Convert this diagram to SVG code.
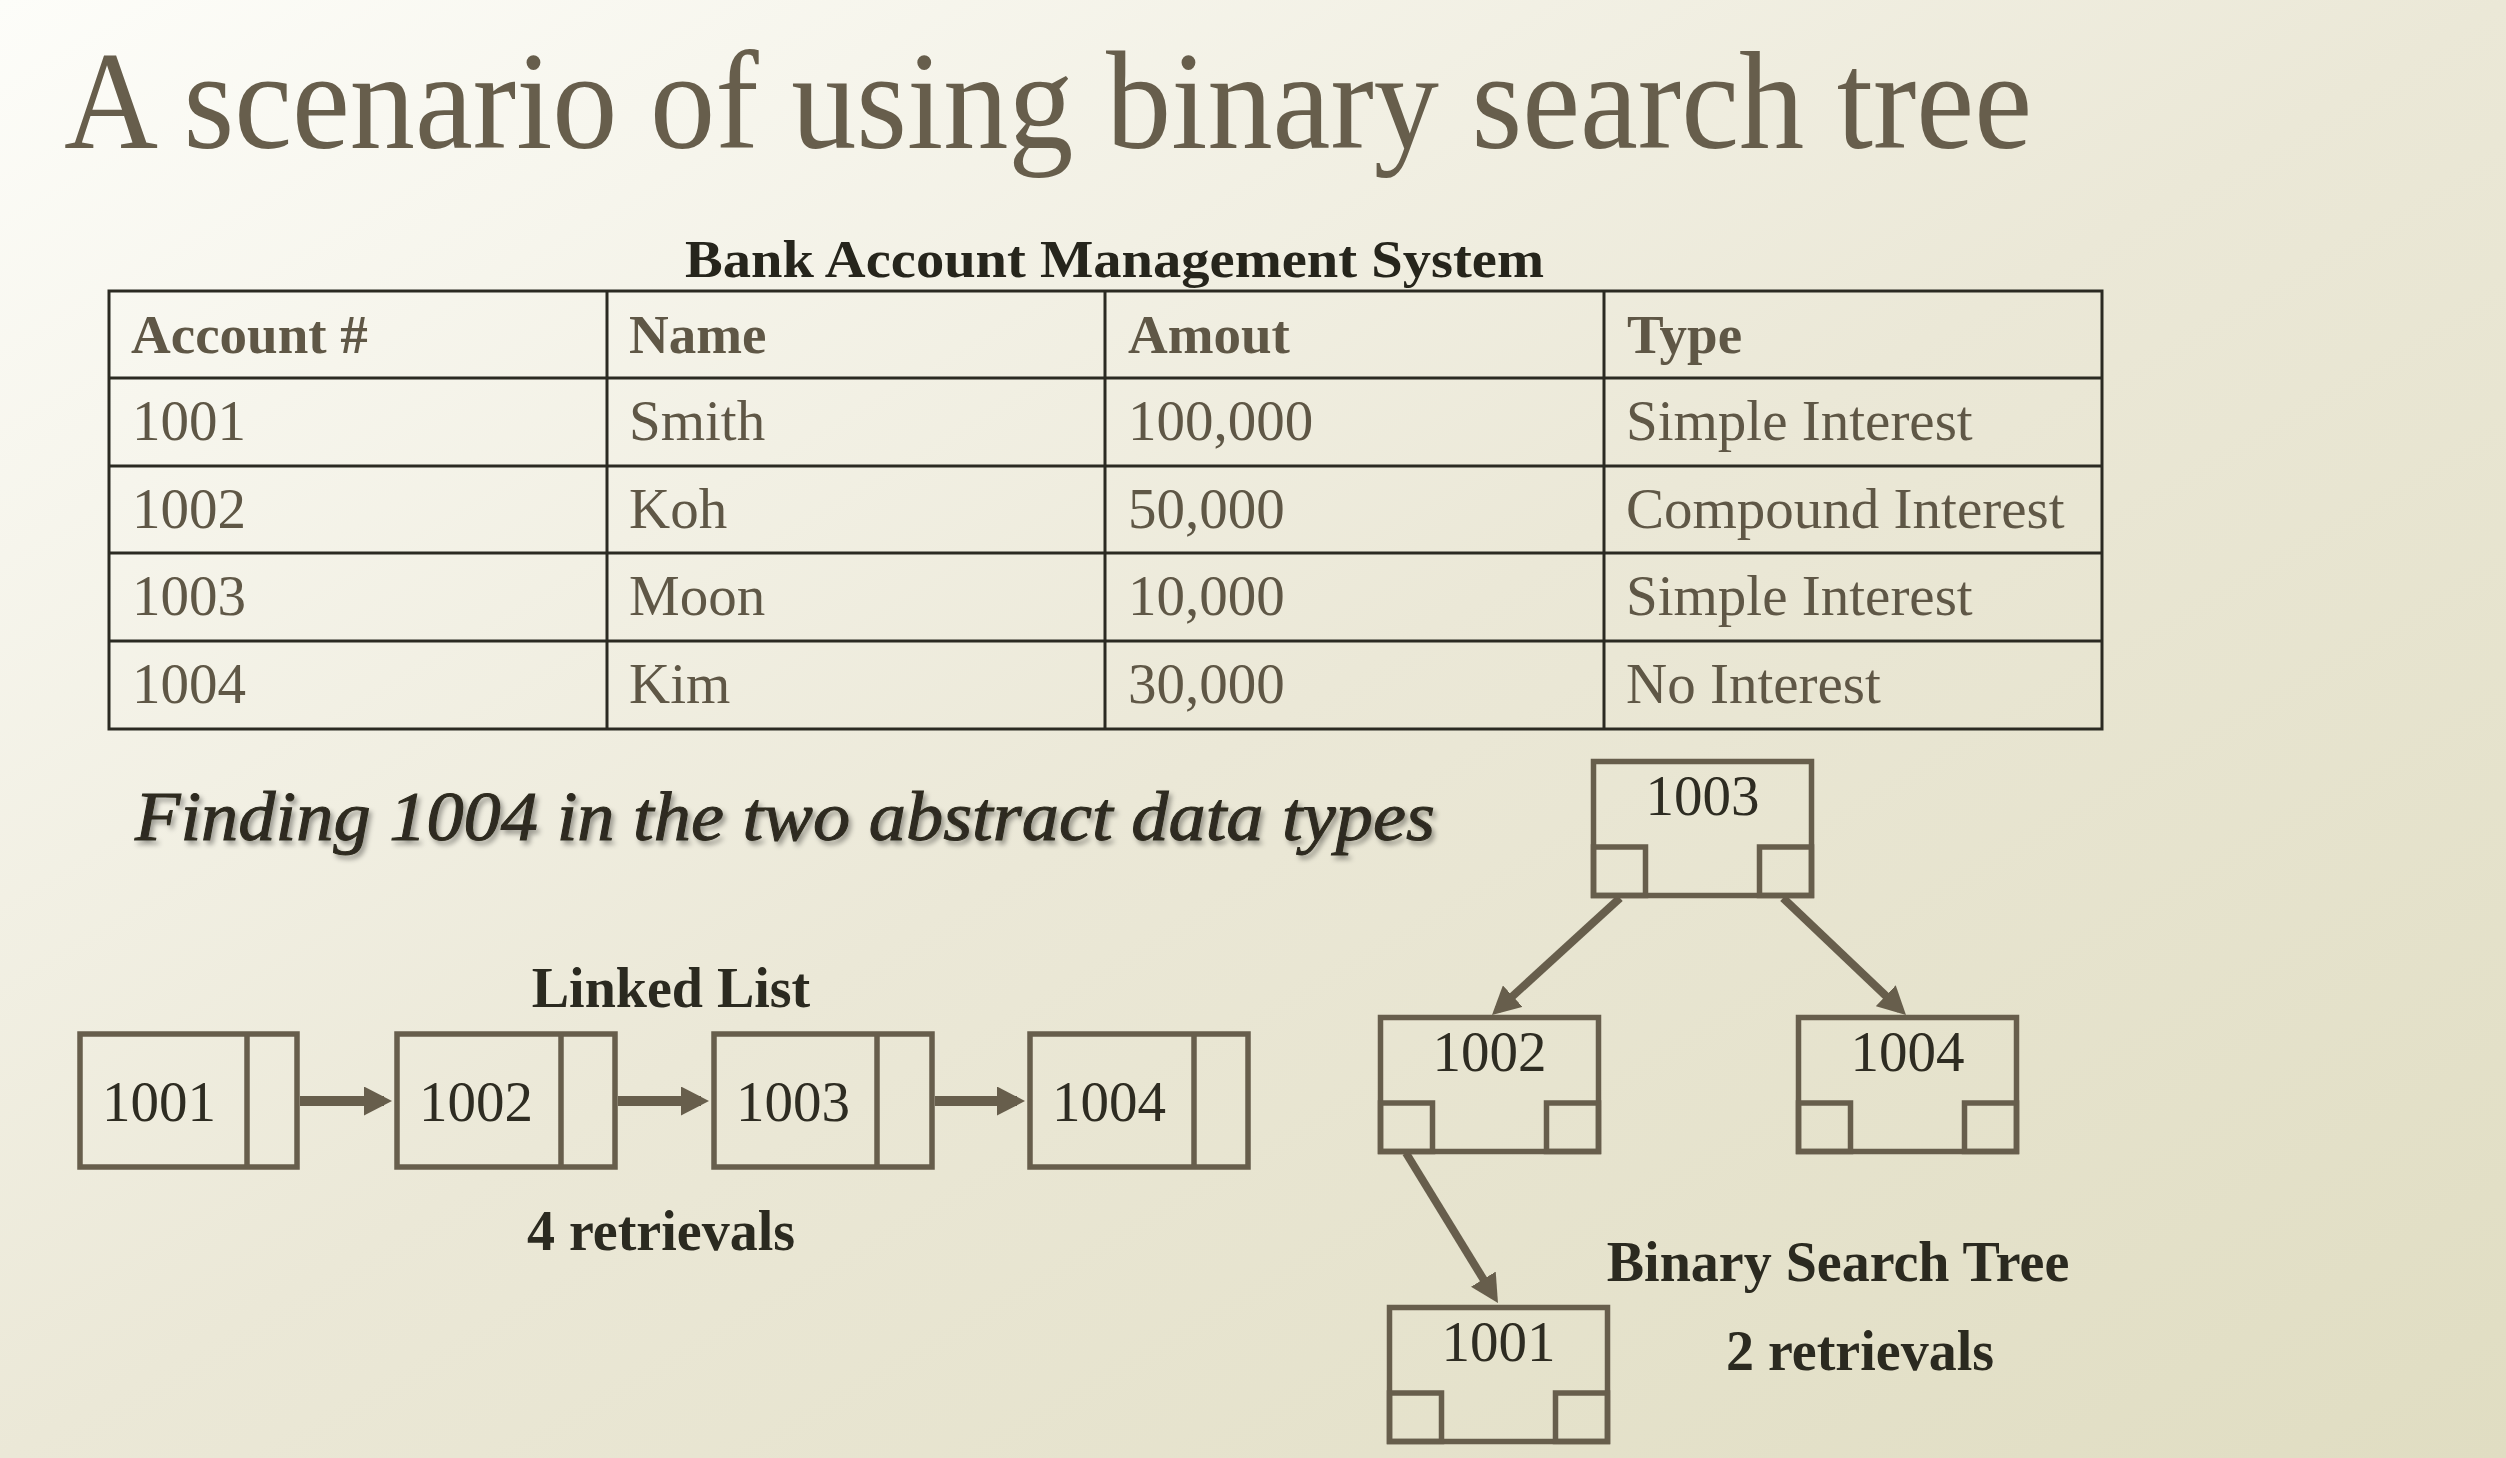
<svg xmlns="http://www.w3.org/2000/svg" width="2506" height="1458" viewBox="0 0 2506 1458">
<defs>
<linearGradient id="bg" x1="0" y1="0" x2="1" y2="1">
<stop offset="0" stop-color="#FDFDF9"/>
<stop offset="0.5" stop-color="#EBE8D7"/>
<stop offset="1" stop-color="#E0DDC2"/>
</linearGradient>
<filter id="shadow" x="-5%" y="-30%" width="110%" height="160%">
<feDropShadow dx="3" dy="4" stdDeviation="2.5" flood-color="#000" flood-opacity="0.35"/>
</filter>
<marker id="ah" markerUnits="userSpaceOnUse" markerWidth="28" markerHeight="29" viewBox="0 0 28 29" refX="20" refY="14.5" orient="auto">
<path d="M0,0 L28,14.5 L0,29 z" fill="#675E4C"/>
</marker>
</defs>
<style>
.title{font-family:"Liberation Serif",serif;font-size:140px;fill:#675E4C}
.cap{font-family:"Liberation Serif",serif;font-size:52px;font-weight:bold;fill:#26251C}
.th{font-family:"Liberation Serif",serif;font-size:55px;font-weight:bold;fill:#5F5746}
.td{font-family:"Liberation Serif",serif;font-size:57px;fill:#5F5746}
.grid{stroke:#2B2A22;stroke-width:3;fill:none}
.find{font-family:"Liberation Serif",serif;font-size:70px;font-style:italic;fill:#2E2B20;stroke:#2E2B20;stroke-width:1}
.lbl{font-family:"Liberation Serif",serif;font-size:56px;font-weight:bold;fill:#2B2A20;text-anchor:middle}
.box{fill:none;stroke:#675E4C;stroke-width:5.5}
.num{font-family:"Liberation Serif",serif;font-size:57px;fill:#2E2C22}
.numc{font-family:"Liberation Serif",serif;font-size:57px;fill:#2E2C22;text-anchor:middle}
.link{stroke:#675E4C;stroke-width:10;fill:none}
.tlink{stroke:#675E4C;stroke-width:8;fill:none}
</style>
<rect x="0" y="0" width="2506" height="1458" fill="url(#bg)"/>
<text class="title" x="64" y="148" textLength="1968" lengthAdjust="spacingAndGlyphs">A scenario of using binary search tree</text>

<g id="table">
<text class="cap" x="685" y="277" textLength="859" lengthAdjust="spacingAndGlyphs">Bank Account Management System</text>
<rect class="grid" x="109" y="291" width="1993" height="438"/>
<line class="grid" x1="109" y1="378" x2="2102" y2="378"/>
<line class="grid" x1="109" y1="466" x2="2102" y2="466"/>
<line class="grid" x1="109" y1="553" x2="2102" y2="553"/>
<line class="grid" x1="109" y1="641" x2="2102" y2="641"/>
<line class="grid" x1="607" y1="291" x2="607" y2="729"/>
<line class="grid" x1="1105" y1="291" x2="1105" y2="729"/>
<line class="grid" x1="1604" y1="291" x2="1604" y2="729"/>
<text class="th" x="131" y="353">Account #</text>
<text class="th" x="629" y="353">Name</text>
<text class="th" x="1128" y="353">Amout</text>
<text class="th" x="1627" y="353">Type</text>
<text class="td" x="132" y="440">1001</text>
<text class="td" x="629" y="440">Smith</text>
<text class="td" x="1128" y="440">100,000</text>
<text class="td" x="1626" y="440">Simple Interest</text>
<text class="td" x="132" y="528">1002</text>
<text class="td" x="629" y="528">Koh</text>
<text class="td" x="1128" y="528">50,000</text>
<text class="td" x="1626" y="528">Compound Interest</text>
<text class="td" x="132" y="615">1003</text>
<text class="td" x="629" y="615">Moon</text>
<text class="td" x="1128" y="615">10,000</text>
<text class="td" x="1626" y="615">Simple Interest</text>
<text class="td" x="132" y="703">1004</text>
<text class="td" x="629" y="703">Kim</text>
<text class="td" x="1128" y="703">30,000</text>
<text class="td" x="1626" y="703">No Interest</text>
</g>

<text class="find" x="135" y="840" textLength="1300" lengthAdjust="spacingAndGlyphs" filter="url(#shadow)">Finding 1004 in the two abstract data types</text>

<text class="lbl" x="671" y="1007">Linked List</text>
<text class="lbl" x="661" y="1250">4 retrievals</text>
<text class="lbl" x="1838" y="1281">Binary Search Tree</text>
<text class="lbl" x="1860" y="1370">2 retrievals</text>

<g id="connectors">
<line class="link" x1="300" y1="1101" x2="384" y2="1101" marker-end="url(#ah)"/>
<line class="link" x1="618" y1="1101" x2="701" y2="1101" marker-end="url(#ah)"/>
<line class="link" x1="935" y1="1101" x2="1017" y2="1101" marker-end="url(#ah)"/>
<line class="tlink" x1="1620" y1="898" x2="1497.9" y2="1009.6" marker-end="url(#ah)"/>
<line class="tlink" x1="1783" y1="898" x2="1900.2" y2="1009.5" marker-end="url(#ah)"/>
<line class="tlink" x1="1406" y1="1153" x2="1493.8" y2="1296.2" marker-end="url(#ah)"/>
</g>

<g id="ll-1001">
<rect class="box" x="80" y="1034" width="217" height="133"/>
<line class="box" x1="247" y1="1034" x2="247" y2="1167"/>
<text class="num" x="102" y="1121">1001</text>
</g>
<g id="ll-1002">
<rect class="box" x="397" y="1034" width="218" height="133"/>
<line class="box" x1="561" y1="1034" x2="561" y2="1167"/>
<text class="num" x="419" y="1121">1002</text>
</g>
<g id="ll-1003">
<rect class="box" x="714" y="1034" width="218" height="133"/>
<line class="box" x1="877" y1="1034" x2="877" y2="1167"/>
<text class="num" x="736" y="1121">1003</text>
</g>
<g id="ll-1004">
<rect class="box" x="1030" y="1034" width="218" height="133"/>
<line class="box" x1="1194" y1="1034" x2="1194" y2="1167"/>
<text class="num" x="1052" y="1121">1004</text>
</g>

<g id="bst-1003" transform="translate(1591,759)">
<rect class="box" x="2.5" y="2.5" width="218" height="134"/>
<rect class="box" x="2.5" y="88" width="52" height="48.5"/>
<rect class="box" x="168.5" y="88" width="52" height="48.5"/>
<text class="numc" x="111.5" y="56">1003</text>
</g>
<g id="bst-1002" transform="translate(1378,1015)">
<rect class="box" x="2.5" y="2.5" width="218" height="134"/>
<rect class="box" x="2.5" y="88" width="52" height="48.5"/>
<rect class="box" x="168.5" y="88" width="52" height="48.5"/>
<text class="numc" x="111.5" y="56">1002</text>
</g>
<g id="bst-1004" transform="translate(1796,1015)">
<rect class="box" x="2.5" y="2.5" width="218" height="134"/>
<rect class="box" x="2.5" y="88" width="52" height="48.5"/>
<rect class="box" x="168.5" y="88" width="52" height="48.5"/>
<text class="numc" x="111.5" y="56">1004</text>
</g>
<g id="bst-1001" transform="translate(1387,1305)">
<rect class="box" x="2.5" y="2.5" width="218" height="134"/>
<rect class="box" x="2.5" y="88" width="52" height="48.5"/>
<rect class="box" x="168.5" y="88" width="52" height="48.5"/>
<text class="numc" x="111.5" y="56">1001</text>
</g>
</svg>
